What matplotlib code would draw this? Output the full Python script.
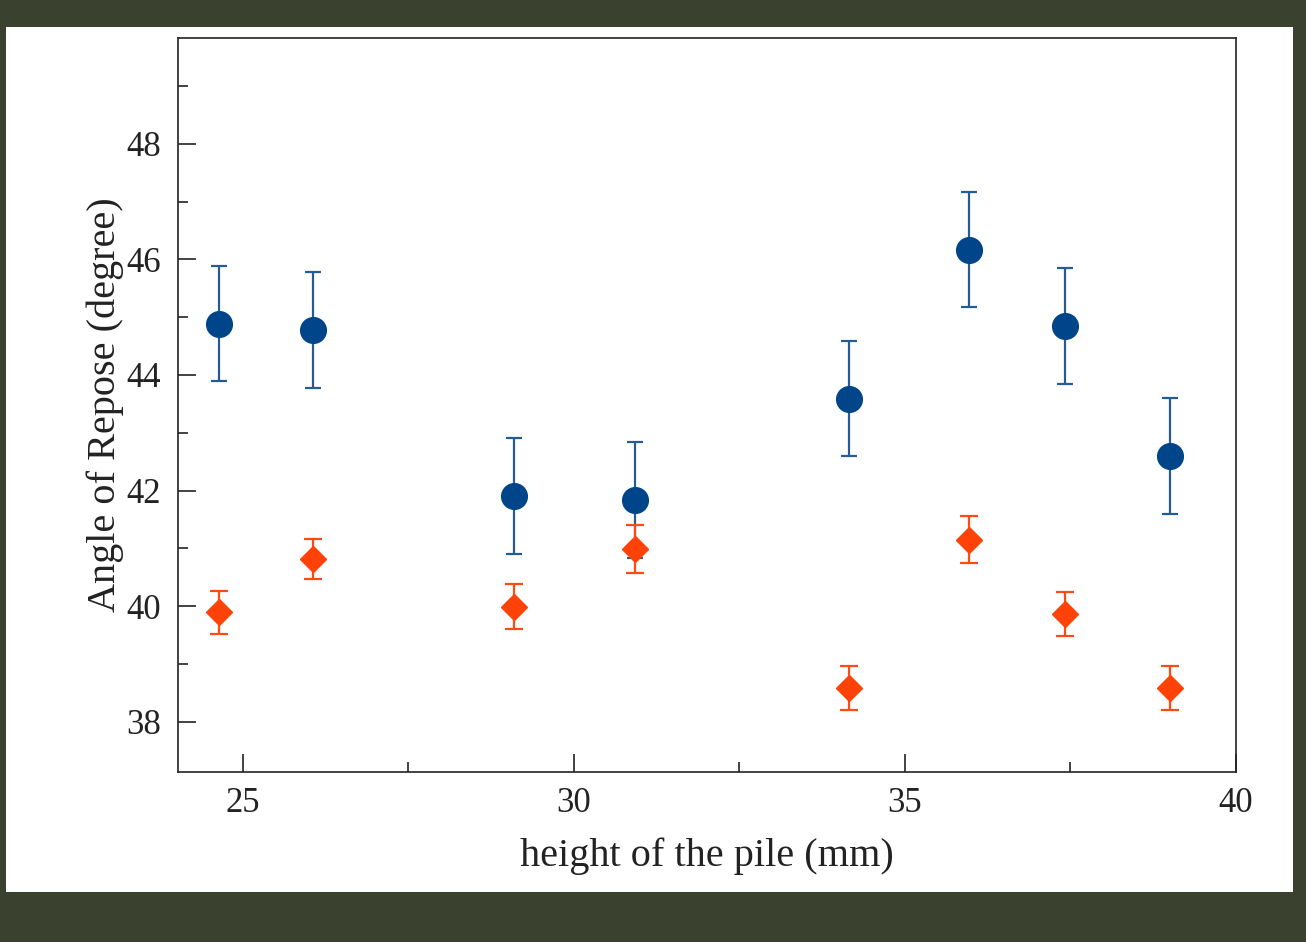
import numpy as np
import matplotlib.pyplot as plt
from matplotlib.patches import Rectangle
from matplotlib.ticker import MultipleLocator

# pile height (mm)
height = [24.64, 26.06, 29.10, 30.93, 34.16, 35.96, 37.41, 39.01]

# angle of repose, two series (degree)
angle_blue = [44.89, 44.78, 41.91, 41.84, 43.59, 46.17, 44.85, 42.60]
err_blue = [1.0, 1.0, 1.0, 1.0, 1.0, 1.0, 1.0, 1.0]

angle_orange = [39.89, 40.82, 39.99, 40.99, 38.59, 41.15, 39.87, 38.59]
err_orange = [0.37, 0.35, 0.39, 0.41, 0.38, 0.41, 0.38, 0.38]

plt.rcParams['font.family'] = ['Liberation Serif', 'DejaVu Serif']

fig = plt.figure(figsize=(13.06, 9.42), dpi=100, facecolor='#3a412e')
# white sheet behind the plot
sheet = Rectangle((6 / 1306, 1 - 892 / 942), 1287 / 1306, 865 / 942,
                  transform=fig.transFigure, facecolor='white',
                  edgecolor='none', zorder=-1)
fig.add_artist(sheet)

ax = fig.add_axes([178 / 1306, 1 - 772 / 942, 1058 / 1306, 734 / 942])
ax.set_zorder(1)

ax.errorbar(height, angle_blue, yerr=err_blue, fmt='o', color='#00448a',
            ecolor='#255c98', markersize=18.5, elinewidth=1.6, capsize=6,
            capthick=1.6, zorder=3)
ax.errorbar(height, angle_orange, yerr=err_orange, fmt='D', color='#ff4208',
            ecolor='#ff4a12', markersize=13.5, elinewidth=1.6, capsize=6.5,
            capthick=1.6, zorder=4)

ax.set_xlim(24.02, 40.0)
ax.set_ylim(37.13, 49.83)
ax.xaxis.set_major_locator(MultipleLocator(5))
ax.xaxis.set_minor_locator(MultipleLocator(2.5))
ax.yaxis.set_minor_locator(MultipleLocator(1))
ax.set_yticks([38, 40, 42, 44, 46, 48])

ax.tick_params(which='both', direction='in', top=False, right=False,
               colors='#222222', width=1.2)
ax.tick_params(which='major', length=13, labelsize=25)
ax.tick_params(axis='y', which='major', pad=12)
ax.tick_params(axis='x', which='major', pad=11)
ax.tick_params(which='minor', length=7.5)

for s in ax.spines.values():
    s.set_linewidth(1.2)
    s.set_color('#222222')

ax.set_xlabel('height of the pile (mm)', fontsize=29, color='#222222', labelpad=12)
ax.set_ylabel('Angle of Repose (degree)', fontsize=29, color='#222222', labelpad=2)

fig.savefig('out.png', dpi=100, facecolor=fig.get_facecolor())
